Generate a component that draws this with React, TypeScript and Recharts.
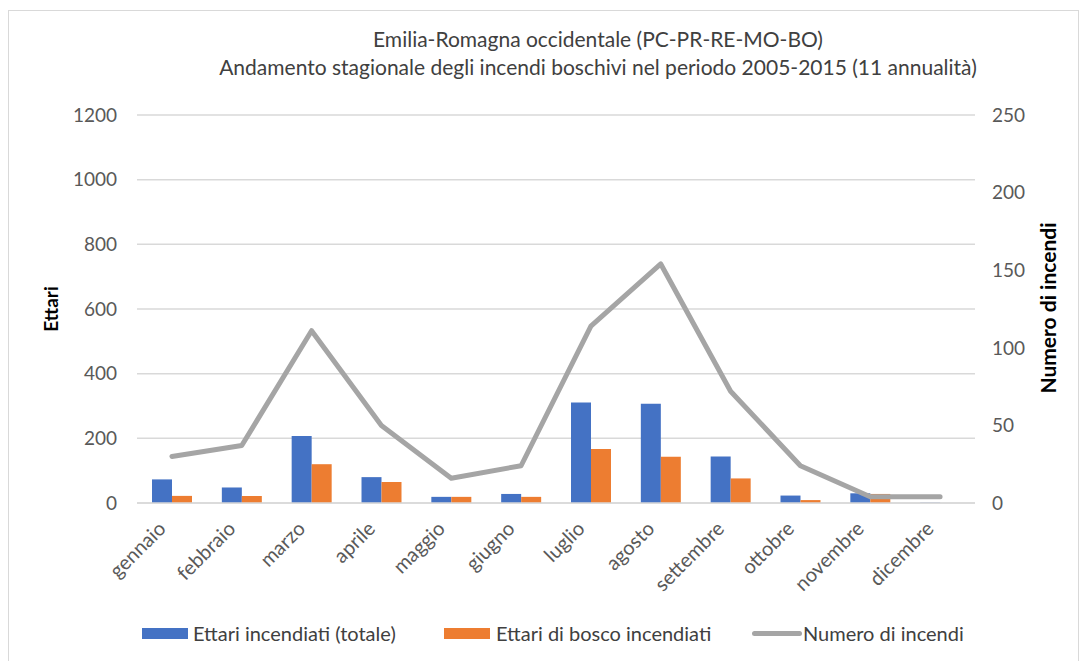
import React from "react";
import {
  ComposedChart,
  Bar,
  Line,
  XAxis,
  YAxis,
  CartesianGrid,
} from "recharts";

// mesi e valori
const mesi = [
  "gennaio",
  "febbraio",
  "marzo",
  "aprile",
  "maggio",
  "giugno",
  "luglio",
  "agosto",
  "settembre",
  "ottobre",
  "novembre",
  "dicembre",
];
const ettariTotale = [73, 48, 207, 80, 19, 28, 311, 307, 144, 23, 30, 1];
const ettariBosco = [22, 22, 120, 65, 19, 19, 167, 143, 76, 9, 28, 0];
const numeroIncendi = [30, 37, 111, 50, 16, 24, 114, 154, 72, 24, 4, 4];

const ticksEttari = [0, 200, 400, 600, 800, 1000, 1200];
const ticksIncendi = [0, 50, 100, 150, 200, 250];

const data = mesi.map((mese, i) => ({
  mese,
  totale: ettariTotale[i],
  bosco: ettariBosco[i],
  incendi: numeroIncendi[i],
}));

const FONT = "Lato, 'Open Sans', sans-serif";
const TEXT = "#595959";

const MonthTick = (props: any) => {
  const { x, y, payload } = props;
  return (
    <g transform={`translate(${x - 5},${y + 19})`}>
      <text
        x={0}
        y={0}
        transform="rotate(-45)"
        textAnchor="end"
        fontSize={20}
        fill={TEXT}
        fontFamily={FONT}
      >
        {payload.value}
      </text>
    </g>
  );
};

export default function App() {
  return (
    <div style={{ position: "absolute", left: 0, top: 0, width: 1084, height: 661, background: "#fff", fontFamily: FONT }}>
      {/* cornice */}
      <div
        style={{
          position: "absolute",
          left: 8,
          top: 10,
          width: 1069,
          height: 660,
          border: "1px solid #d9d9d9",
        }}
      />

      <ComposedChart
        width={1084}
        height={661}
        data={data}
        margin={{ top: 115, right: 0, left: 0, bottom: 88 }}
        barGap={0}
        barCategoryGap={15}
        style={{ position: "absolute", left: 0, top: 0 }}
      >
        <text x={598} y={47} textAnchor="middle" fontSize={21} fill="#404040" fontFamily={FONT}>
          Emilia-Romagna occidentale (PC-PR-RE-MO-BO)
        </text>
        <text x={598} y={75} textAnchor="middle" fontSize={21} fill="#404040" fontFamily={FONT}>
          Andamento stagionale degli incendi boschivi nel periodo 2005-2015 (11 annualità)
        </text>

        <CartesianGrid vertical={false} stroke="#d9d9d9" strokeWidth={1.5} yAxisId="left" />
        <XAxis
          dataKey="mese"
          height={70}
          interval={0}
          tickLine={false}
          axisLine={{ stroke: "#d9d9d9", strokeWidth: 1.5 }}
          tick={<MonthTick />}
        />
        <YAxis
          yAxisId="left"
          width={137}
          domain={[0, 1200]}
          ticks={ticksEttari}
          tickLine={false}
          axisLine={false}
          tickMargin={14}
          tick={{ fontSize: 19, fill: TEXT, fontFamily: FONT }}
        />
        <YAxis
          yAxisId="right"
          orientation="right"
          width={109}
          domain={[0, 250]}
          ticks={ticksIncendi}
          tickLine={false}
          axisLine={false}
          tickMargin={11}
          tick={{ fontSize: 19, fill: TEXT, fontFamily: FONT, textAnchor: "start" }}
        />

        <text
          x={58}
          y={309}
          transform="rotate(-90, 58, 309)"
          textAnchor="middle"
          fontSize={19}
          fontWeight="bold"
          fill="#000"
          fontFamily={FONT}
        >
          Ettari
        </text>
        <text
          x={1056}
          y={308}
          transform="rotate(-90, 1056, 308)"
          textAnchor="middle"
          fontSize={21}
          fontWeight="bold"
          fill="#000"
          fontFamily={FONT}
        >
          Numero di incendi
        </text>

        <Bar yAxisId="left" dataKey="totale" fill="#4472c4" barSize={20} isAnimationActive={false} />
        <Bar yAxisId="left" dataKey="bosco" fill="#ed7d31" barSize={20} isAnimationActive={false} />
        <Line
          yAxisId="right"
          dataKey="incendi"
          type="linear"
          stroke="#a5a5a5"
          strokeWidth={5}
          dot={false}
          activeDot={false}
          strokeLinecap="round"
          strokeLinejoin="round"
          isAnimationActive={false}
        />
      </ComposedChart>

      {/* legenda */}
      <div style={{ position: "absolute", top: 621, left: 0, fontSize: 20, lineHeight: "24px", color: "#404040", fontFamily: FONT }}>
        <div style={{ position: "absolute", left: 142, top: 7, width: 46, height: 11, background: "#4472c4" }} />
        <div style={{ position: "absolute", left: 193, top: 0, whiteSpace: "nowrap" }}>Ettari incendiati (totale)</div>
        <div style={{ position: "absolute", left: 444, top: 7, width: 46, height: 11, background: "#ed7d31" }} />
        <div style={{ position: "absolute", left: 496, top: 0, whiteSpace: "nowrap" }}>Ettari di bosco incendiati</div>
        <div style={{ position: "absolute", left: 752, top: 10, width: 50, height: 5, borderRadius: 3, background: "#a5a5a5" }} />
        <div style={{ position: "absolute", left: 803, top: 0, whiteSpace: "nowrap" }}>Numero di incendi</div>
      </div>
    </div>
  );
}
